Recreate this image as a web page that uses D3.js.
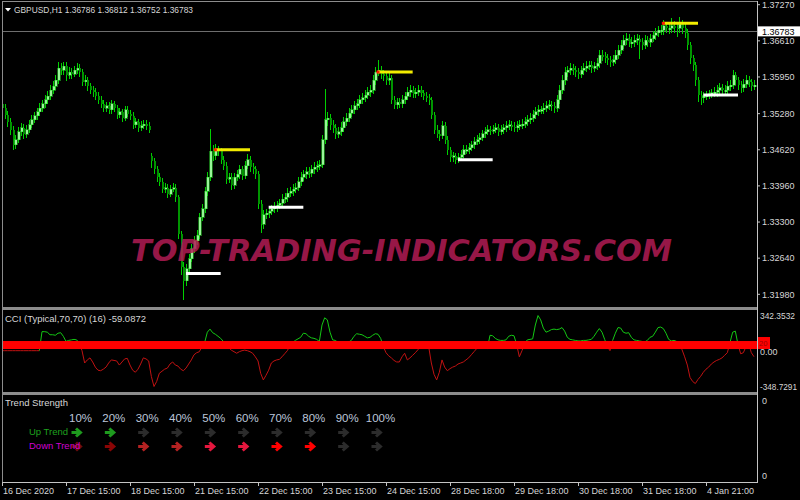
<!DOCTYPE html>
<html>
<head>
<meta charset="utf-8">
<script src="https://cdn.jsdelivr.net/npm/d3@7"></script>
<style>
  body { margin: 0; background: #000; }
  text { font-family: "Liberation Sans", Arial, sans-serif; }
</style>
</head>
<body>
<svg id="chart" width="800" height="500"></svg>
<script>
// GBPUSD H1 bars (16 Dec 2020 -> 4 Jan 2021)
const opens = [
  1.3545,1.3538,1.3526,1.3513,1.3499,1.3471,
  1.3480,1.3495,1.3502,1.3490,1.3499, 1.3508,1.3517,1.3524,1.3531,1.3538,
  1.3546,1.3553,1.3560,1.3571,1.3578, 1.3589,1.3611,1.3607,1.3615,1.3598,
  1.3604,1.3600,1.3607,1.3611,1.3604, 1.3586,1.3589,1.3578,1.3571,1.3567,
  1.3560,1.3553,1.3546,1.3538,1.3542, 1.3535,1.3546,1.3538,1.3526,1.3531,
  1.3520,1.3535,1.3528,1.3524,1.3508, 1.3513,1.3502,1.3506,1.3509,1.3506,
  1.3450,1.3441,1.3426,1.3412,1.3404, 1.3390,1.3393,1.3381,1.3390,1.3393,
  1.3375,1.3308,1.3248,1.3223,1.3245, 1.3263,1.3281,1.3296,1.3306,1.3339,
  1.3354,1.3386,1.3412,1.3459,1.3451, 1.3462,1.3459,1.3444,1.3433,1.3408,
  1.3412,1.3397,1.3412,1.3417,1.3426, 1.3415,1.3433,1.3444,1.3430,1.3426,
  1.3417,1.3363,1.3326,1.3343,1.3346, 1.3350,1.3354,1.3357,1.3361,1.3364,
  1.3372,1.3375,1.3383,1.3386,1.3390, 1.3393,1.3404,1.3412,1.3417,1.3422,
  1.3419,1.3426,1.3430,1.3433,1.3435, 1.3480,1.3517,1.3520,1.3508,1.3502,
  1.3490,1.3495,1.3502,1.3513,1.3520, 1.3529,1.3535,1.3542,1.3546,1.3553,
  1.3557,1.3562,1.3567,1.3571,1.3589, 1.3604,1.3607,1.3600,1.3597,1.3589,
  1.3593,1.3553,1.3544,1.3549,1.3546, 1.3553,1.3560,1.3567,1.3571,1.3564,
  1.3567,1.3571,1.3566,1.3560,1.3557, 1.3553,1.3526,1.3499,1.3491,1.3488,
  1.3506,1.3480,1.3462,1.3448,1.3451, 1.3444,1.3448,1.3453,1.3462,1.3462,
  1.3466,1.3471,1.3477,1.3480,1.3484, 1.3491,1.3495,1.3499,1.3497,1.3499,
  1.3502,1.3495,1.3499,1.3502,1.3506, 1.3508,1.3504,1.3502,1.3506,1.3508,
  1.3509,1.3513,1.3517,1.3520,1.3526, 1.3531,1.3535,1.3535,1.3538,1.3542,
  1.3544,1.3542,1.3538,1.3553,1.3571, 1.3589,1.3604,1.3607,1.3611,1.3607,
  1.3604,1.3600,1.3607,1.3611,1.3615, 1.3616,1.3611,1.3615,1.3620,1.3635,
  1.3633,1.3629,1.3626,1.3622,1.3626, 1.3635,1.3644,1.3653,1.3662,1.3665,
  1.3658,1.3658,1.3662,1.3665,1.3658, 1.3653,1.3662,1.3658,1.3665,1.3671,
  1.3676,1.3680,1.3680,1.3689,1.3684, 1.3684,1.3689,1.3685,1.3684,1.3691,
  1.3684,1.3676,1.3653,1.3629,1.3616, 1.3589,1.3562,1.3557,1.3560,1.3562,
  1.3564,1.3566,1.3567,1.3571,1.3575, 1.3571,1.3571,1.3578,1.3580,1.3598,
  1.3589,1.3580,1.3575,1.3582,1.3589, 1.3586,1.3578
];
const highs = [
  1.3552,1.3544,1.3531,1.3518,1.3503,1.3488,
  1.3501,1.3509,1.3507,1.3505,1.3514, 1.3523,1.3530,1.3537,1.3545,1.3552,
  1.3560,1.3567,1.3578,1.3585,1.3597, 1.3620,1.3618,1.3621,1.3620,1.3611,
  1.3610,1.3613,1.3619,1.3616,1.3608, 1.3596,1.3594,1.3583,1.3576,1.3573,
  1.3565,1.3558,1.3551,1.3548,1.3547, 1.3552,1.3550,1.3542,1.3537,1.3535,
  1.3541,1.3540,1.3533,1.3529,1.3519, 1.3517,1.3512,1.3515,1.3514,1.3511,
  1.3455,1.3445,1.3430,1.3418,1.3408, 1.3399,1.3398,1.3396,1.3400,1.3397,
  1.3378,1.3312,1.3255,1.3252,1.3270, 1.3288,1.3302,1.3313,1.3345,1.3362,
  1.3392,1.3420,1.3499,1.3468,1.3470, 1.3467,1.3464,1.3449,1.3438,1.3418,
  1.3417,1.3418,1.3424,1.3433,1.3431, 1.3440,1.3452,1.3449,1.3436,1.3431,
  1.3421,1.3368,1.3350,1.3352,1.3356, 1.3360,1.3364,1.3367,1.3370,1.3379,
  1.3382,1.3390,1.3393,1.3397,1.3400, 1.3411,1.3419,1.3424,1.3429,1.3428,
  1.3432,1.3437,1.3440,1.3442,1.3488, 1.3571,1.3530,1.3525,1.3515,1.3508,
  1.3502,1.3510,1.3520,1.3527,1.3536, 1.3542,1.3549,1.3553,1.3560,1.3564,
  1.3569,1.3574,1.3578,1.3597,1.3612, 1.3625,1.3614,1.3606,1.3602,1.3600,
  1.3597,1.3558,1.3555,1.3554,1.3560, 1.3566,1.3574,1.3578,1.3576,1.3573,
  1.3578,1.3576,1.3570,1.3565,1.3562, 1.3557,1.3530,1.3505,1.3497,1.3512,
  1.3510,1.3485,1.3466,1.3457,1.3455, 1.3454,1.3459,1.3468,1.3468,1.3472,
  1.3477,1.3483,1.3487,1.3491,1.3497, 1.3502,1.3506,1.3504,1.3505,1.3509,
  1.3507,1.3505,1.3508,1.3512,1.3514, 1.3513,1.3510,1.3512,1.3514,1.3516,
  1.3520,1.3524,1.3527,1.3533,1.3538, 1.3542,1.3541,1.3545,1.3549,1.3551,
  1.3550,1.3548,1.3560,1.3578,1.3597, 1.3612,1.3614,1.3618,1.3617,1.3613,
  1.3610,1.3614,1.3618,1.3622,1.3623, 1.3622,1.3621,1.3627,1.3643,1.3642,
  1.3639,1.3635,1.3631,1.3633,1.3642, 1.3651,1.3661,1.3670,1.3673,1.3671,
  1.3666,1.3669,1.3672,1.3670,1.3664, 1.3669,1.3668,1.3672,1.3678,1.3683,
  1.3687,1.3688,1.3697,1.3694,1.3692, 1.3700,1.3695,1.3693,1.3703,1.3697,
  1.3690,1.3680,1.3657,1.3634,1.3620, 1.3594,1.3568,1.3566,1.3568,1.3570,
  1.3572,1.3574,1.3578,1.3582,1.3580, 1.3578,1.3585,1.3588,1.3606,1.3603,
  1.3594,1.3585,1.3590,1.3596,1.3595, 1.3590,1.3587
];
const lows = [
  1.3532,1.3520,1.3506,1.3490,1.3463,1.3466,
  1.3476,1.3489,1.3484,1.3486,1.3494, 1.3503,1.3512,1.3519,1.3526,1.3533,
  1.3540,1.3548,1.3555,1.3566,1.3573, 1.3584,1.3600,1.3601,1.3590,1.3593,
  1.3594,1.3596,1.3602,1.3597,1.3580, 1.3581,1.3572,1.3566,1.3561,1.3554,
  1.3547,1.3540,1.3532,1.3533,1.3529, 1.3530,1.3533,1.3520,1.3521,1.3514,
  1.3516,1.3523,1.3518,1.3502,1.3503, 1.3497,1.3498,1.3501,1.3500,1.3494,
  1.3430,1.3420,1.3405,1.3398,1.3384, 1.3385,1.3376,1.3377,1.3386,1.3368,
  1.3300,1.3235,1.3190,1.3215,1.3238, 1.3258,1.3275,1.3290,1.3300,1.3333,
  1.3348,1.3380,1.3406,1.3444,1.3446, 1.3452,1.3438,1.3427,1.3402,1.3403,
  1.3390,1.3392,1.3406,1.3411,1.3409, 1.3410,1.3428,1.3424,1.3419,1.3410,
  1.3356,1.3312,1.3320,1.3337,1.3340, 1.3344,1.3349,1.3351,1.3355,1.3359,
  1.3366,1.3369,1.3377,1.3380,1.3384, 1.3388,1.3398,1.3406,1.3411,1.3413,
  1.3414,1.3420,1.3424,1.3427,1.3430, 1.3475,1.3508,1.3500,1.3495,1.3484,
  1.3485,1.3489,1.3497,1.3508,1.3515, 1.3523,1.3530,1.3536,1.3540,1.3547,
  1.3551,1.3556,1.3561,1.3566,1.3583, 1.3598,1.3594,1.3590,1.3583,1.3583,
  1.3547,1.3538,1.3538,1.3540,1.3541, 1.3548,1.3555,1.3561,1.3558,1.3559,
  1.3562,1.3560,1.3554,1.3551,1.3546, 1.3520,1.3492,1.3485,1.3480,1.3484,
  1.3474,1.3455,1.3441,1.3442,1.3437, 1.3439,1.3443,1.3448,1.3456,1.3457,
  1.3461,1.3466,1.3472,1.3475,1.3479, 1.3486,1.3490,1.3491,1.3492,1.3494,
  1.3489,1.3490,1.3493,1.3497,1.3500, 1.3498,1.3496,1.3497,1.3500,1.3502,
  1.3504,1.3508,1.3511,1.3515,1.3520, 1.3525,1.3529,1.3530,1.3533,1.3536,
  1.3535,1.3531,1.3533,1.3548,1.3565, 1.3583,1.3597,1.3600,1.3600,1.3597,
  1.3593,1.3595,1.3601,1.3605,1.3609, 1.3604,1.3605,1.3610,1.3614,1.3626,
  1.3622,1.3619,1.3615,1.3616,1.3620, 1.3629,1.3638,1.3647,1.3656,1.3651,
  1.3650,1.3652,1.3656,1.3630,1.3646, 1.3648,1.3651,1.3652,1.3660,1.3665,
  1.3670,1.3673,1.3674,1.3677,1.3676, 1.3678,1.3678,1.3670,1.3678,1.3676,
  1.3668,1.3646,1.3620,1.3608,1.3580, 1.3552,1.3546,1.3550,1.3554,1.3556,
  1.3558,1.3560,1.3561,1.3565,1.3564, 1.3564,1.3566,1.3572,1.3575,1.3582,
  1.3573,1.3567,1.3569,1.3576,1.3579, 1.3571,1.3573
];
const closes = [
  1.3538,1.3526,1.3513,1.3499,1.3471,1.3480,
  1.3495,1.3502,1.3490,1.3499,1.3508, 1.3517,1.3524,1.3531,1.3538,1.3546,
  1.3553,1.3560,1.3571,1.3578,1.3589, 1.3611,1.3607,1.3615,1.3598,1.3604,
  1.3600,1.3607,1.3611,1.3604,1.3586, 1.3589,1.3578,1.3571,1.3567,1.3560,
  1.3553,1.3546,1.3538,1.3542,1.3535, 1.3546,1.3538,1.3526,1.3531,1.3520,
  1.3535,1.3528,1.3524,1.3508,1.3513, 1.3502,1.3506,1.3509,1.3506,1.3499,
  1.3441,1.3426,1.3412,1.3404,1.3390, 1.3393,1.3381,1.3390,1.3393,1.3375,
  1.3308,1.3248,1.3223,1.3245,1.3263, 1.3281,1.3296,1.3306,1.3339,1.3354,
  1.3386,1.3412,1.3459,1.3451,1.3462, 1.3459,1.3444,1.3433,1.3408,1.3412,
  1.3397,1.3412,1.3417,1.3426,1.3415, 1.3433,1.3444,1.3430,1.3426,1.3417,
  1.3363,1.3326,1.3343,1.3346,1.3350, 1.3354,1.3357,1.3361,1.3364,1.3372,
  1.3375,1.3383,1.3386,1.3390,1.3393, 1.3404,1.3412,1.3417,1.3422,1.3419,
  1.3426,1.3430,1.3433,1.3435,1.3480, 1.3517,1.3520,1.3508,1.3502,1.3490,
  1.3495,1.3502,1.3513,1.3520,1.3529, 1.3535,1.3542,1.3546,1.3553,1.3557,
  1.3562,1.3567,1.3571,1.3589,1.3604, 1.3607,1.3600,1.3597,1.3589,1.3593,
  1.3553,1.3544,1.3549,1.3546,1.3553, 1.3560,1.3567,1.3571,1.3564,1.3567,
  1.3571,1.3566,1.3560,1.3557,1.3553, 1.3526,1.3499,1.3491,1.3488,1.3506,
  1.3480,1.3462,1.3448,1.3451,1.3444, 1.3448,1.3453,1.3462,1.3462,1.3466,
  1.3471,1.3477,1.3480,1.3484,1.3491, 1.3495,1.3499,1.3497,1.3499,1.3502,
  1.3495,1.3499,1.3502,1.3506,1.3508, 1.3504,1.3502,1.3506,1.3508,1.3509,
  1.3513,1.3517,1.3520,1.3526,1.3531, 1.3535,1.3535,1.3538,1.3542,1.3544,
  1.3542,1.3538,1.3553,1.3571,1.3589, 1.3604,1.3607,1.3611,1.3607,1.3604,
  1.3600,1.3607,1.3611,1.3615,1.3616, 1.3611,1.3615,1.3620,1.3635,1.3633,
  1.3629,1.3626,1.3622,1.3626,1.3635, 1.3644,1.3653,1.3662,1.3665,1.3658,
  1.3658,1.3662,1.3665,1.3658,1.3653, 1.3662,1.3658,1.3665,1.3671,1.3676,
  1.3680,1.3680,1.3689,1.3684,1.3684, 1.3689,1.3685,1.3684,1.3691,1.3684,
  1.3676,1.3653,1.3629,1.3616,1.3589, 1.3562,1.3557,1.3560,1.3562,1.3564,
  1.3566,1.3567,1.3571,1.3575,1.3571, 1.3571,1.3578,1.3580,1.3598,1.3589,
  1.3580,1.3575,1.3582,1.3589,1.3586, 1.3578,1.3580
];

// CCI (Typical, 70, 70) per bar, first bars have no value yet
const cci = [
  0,0,0,0,0,0,0,0,0,0,0,0,0,0,0,
  185,185,180,155,155,150, 170,175,140,90,100, 105,110,105,70,0,
  -120,-90,-70,-110,-160, -190,-195,-180,-160,-120, -90,-95,-100,-140,-110,
  -80,-75,-140,-190,-210, -180,-130,-70,-80,-100, -250,-349,-300,-220,-200,
  -180,-170,-130,-110,-140, -150,-180,-195,-170,-130, -90,-40,-20,-10,40,
  80,180,210,175,160, 140,120,90,60,30, 5,-10,-25,-10,0,
  5,0,-10,-25,-60, -100,-220,-285,-240,-190, -120,-100,-90,-85,-60,
  -30,0,50,80,100, 115,130,170,165,140, 125,120,110,90,250,
  320,300,180,105,100, 80,75,78,80,85, 100,140,165,160,155,
  140,125,130,150,165, 160,120,40,-20,-50, -70,-95,-110,-110,-60,
  -25,-90,-70,-45,-20, 10,40,55,65,40, -120,-230,-285,-210,-90,
  -160,-195,-175,-160,-150, -130,-120,-110,-90,-70, -40,-10,20,60,50,
  30,20,150,145,120, 105,100,100,105,140, 150,145,60,-60,0,
  70,105,110,115,250, 342,300,220,180,190, 205,210,205,210,225,
  190,130,110,105,100, 95,95,100,100,105, 110,140,180,215,180,
  110,40,0,100,170, 225,220,180,170,175, 130,105,100,95,90,
  85,100,130,140,180, 225,230,215,170,110, 95,100,90,50,10,
  -60,-140,-260,-300,-320, -280,-250,-210,-180,-160, -130,-110,-95,-85,-70,
  -45,-20,80,180,190, 60,-30,-20,40,70, -20,-59
];
const cciLevel = 55;

// support / resistance segments: price and first bar
const resistancePrices = [1.3462, 1.3604, 1.3693];
const resistanceBars = [80, 141, 248];
const supportPrices = [1.3236, 1.3357, 1.3444, 1.3562];
const supportBars = [69, 100, 171, 263];
const segmentBars = 13;

const priceTicks = [1.3727, 1.3661, 1.3595, 1.3528, 1.3462, 1.3396, 1.3330, 1.3264, 1.3198];
const lastPrice = 1.36783;
const cciTicks = [342.3532, 0, -348.7291];

const timeTickBars = [0, 24, 48, 72, 96, 120, 144, 168, 192, 216, 240, 264];
const timeLabels = ["16 Dec 2020", "17 Dec 15:00", "18 Dec 15:00", "21 Dec 15:00",
  "22 Dec 15:00", "23 Dec 15:00", "24 Dec 15:00", "28 Dec 18:00", "29 Dec 18:00",
  "30 Dec 18:00", "31 Dec 18:00", "4 Jan 21:00"];

const strengthSteps = [10, 20, 30, 40, 50, 60, 70, 80, 90, 100];
const upTrendStrength = 20;
const downTrendStrength = 80;

// ---- drawing ----
const svg = d3.select("#chart");
svg.append("rect").attr("width", 800).attr("height", 500).attr("fill", "#000");

const x = d3.scaleLinear().domain([0, 24]).range([2, 66]);
const y = d3.scaleLinear().domain([1.3198, 1.3727]).range([294.3, 4.7]);
const yc = d3.scaleLinear().domain([-348.7291, 342.3532]).range([386.5, 315.5]);

const bars = d3.range(closes.length);
const frame = "#8c8c8c";
const axisCol = "#c4c4c4";
const textCol = "#d6d6d6";

// current price line (behind candles)
svg.append("line")
  .attr("x1", 2).attr("x2", 757).attr("y1", Math.round(y(lastPrice)) + 0.5).attr("y2", Math.round(y(lastPrice)) + 0.5)
  .attr("stroke", "#6e6e6e");

// candles
const cg = svg.append("g").attr("shape-rendering", "crispEdges");
cg.selectAll("line").data(bars).join("line")
  .attr("x1", i => Math.round(x(i)) + 0.5)
  .attr("x2", i => Math.round(x(i)) + 0.5)
  .attr("y1", i => y(Math.max(highs[i], opens[i], closes[i])) - 1)
  .attr("y2", i => y(Math.min(lows[i], opens[i], closes[i])) + 1)
  .attr("stroke", "#00d000");
cg.selectAll("rect").data(bars).join("rect")
  .attr("x", i => Math.round(x(i)) - 0.5)
  .attr("width", 2.5)
  .attr("y", i => y(Math.max(opens[i], closes[i])))
  .attr("height", i => Math.max(1.5, Math.abs(y(opens[i]) - y(closes[i]))))
  .attr("fill", i => closes[i] >= opens[i] ? "#98f598" : "#009400")
  .attr("stroke", i => closes[i] >= opens[i] ? "#2ee02e" : "none")
  .attr("stroke-width", 0.5);

// support / resistance segments
const lv = svg.append("g");
lv.selectAll("line.sup").data(supportPrices).join("line").attr("class", "sup")
  .attr("x1", (d, k) => x(supportBars[k])).attr("x2", (d, k) => x(supportBars[k] + segmentBars))
  .attr("y1", d => y(d)).attr("y2", d => y(d))
  .attr("stroke", "#ffffff").attr("stroke-width", 3);
lv.selectAll("line.res").data(resistancePrices).join("line").attr("class", "res")
  .attr("x1", (d, k) => x(resistanceBars[k])).attr("x2", (d, k) => x(resistanceBars[k] + segmentBars))
  .attr("y1", d => y(d)).attr("y2", d => y(d))
  .attr("stroke", "#f2ec00").attr("stroke-width", 3);
lv.selectAll("rect.dot").data(resistancePrices).join("rect").attr("class", "dot")
  .attr("x", (d, k) => x(resistanceBars[k]) - 1.5).attr("y", d => y(d) - 1.5)
  .attr("width", 3).attr("height", 3).attr("fill", "#ff1a00");

// watermark
svg.append("text")
  .attr("x", 131).attr("y", 261)
  .attr("textLength", 541).attr("lengthAdjust", "spacingAndGlyphs")
  .style("font-family", "'DejaVu Sans', sans-serif")
  .style("font-size", "31px").style("font-weight", "bold").style("font-style", "italic")
  .attr("fill", "#b41c55").attr("fill-opacity", 0.85)
  .text("TOP-TRADING-INDICATORS.COM");

// header
svg.append("path").attr("d", "M5,8 L11,8 L8,11.5 Z").attr("fill", "#fff");
svg.append("text").attr("x", 14).attr("y", 13)
  .attr("textLength", 179).attr("lengthAdjust", "spacingAndGlyphs")
  .style("font-size", "9.5px").attr("fill", textCol)
  .text("GBPUSD,H1  1.36786 1.36812 1.36752 1.36783");

// ---- CCI window ----
const cciSeg = svg.append("g");
cciSeg.selectAll("line").data(bars.slice(0, -1)).join("line")
  .attr("x1", i => x(i)).attr("x2", i => x(i + 1))
  .attr("y1", i => yc(cci[i])).attr("y2", i => yc(cci[i + 1]))
  .attr("stroke", i => (cci[i] + cci[i + 1]) / 2 >= 57 ? "#14c814" : "#c01212")
  .attr("stroke-width", 1);
svg.append("rect").attr("x", 2).attr("width", 755)
  .attr("y", yc(cciLevel) - 4).attr("height", 8).attr("fill", "#ff0000");
svg.append("rect").attr("x", 758).attr("width", 12)
  .attr("y", yc(cciLevel) - 8).attr("height", 12).attr("fill", "#ff0000");
svg.append("text").attr("x", 759).attr("y", yc(cciLevel) + 1)
  .style("font-size", "7.5px").attr("fill", "#9a0000").text("20");
svg.append("text").attr("x", 5).attr("y", 321.5)
  .style("font-size", "9.5px").attr("fill", textCol)
  .text("CCI (Typical,70,70) (16) -59.0872");

// ---- Trend Strength window ----
svg.append("text").attr("x", 5).attr("y", 406)
  .style("font-size", "9.5px").attr("fill", textCol).text("Trend Strength");
const colX = d3.scaleLinear().domain([10, 100]).range([76.5, 376.5]);
svg.selectAll("text.pct").data(strengthSteps).join("text").attr("class", "pct")
  .attr("x", d => colX(d) + 4).attr("y", 421.5).attr("text-anchor", "middle")
  .style("font-size", "11.5px").attr("fill", "#bcc6d9")
  .text(d => d + "%");

const offCol = "#2c2c2c";
const downShades = ["#6a0c0c", "#8a0505", "#b52222", "#b52222", "#e5173e", "#e5173e", "#ff0000", "#ff0000"];
const arrow = "M-5,0 H3.5 M-0.5,-4 L4,0 L-0.5,4";
svg.selectAll("path.up").data(strengthSteps).join("path").attr("class", "up")
  .attr("d", arrow).attr("transform", d => `translate(${colX(d)},432.5)`)
  .attr("fill", "none").attr("stroke-width", 3)
  .attr("stroke", d => d <= upTrendStrength ? "#1e9a1e" : offCol);
svg.selectAll("path.down").data(strengthSteps).join("path").attr("class", "down")
  .attr("d", arrow).attr("transform", d => `translate(${colX(d)},446.5)`)
  .attr("fill", "none").attr("stroke-width", 3)
  .attr("stroke", (d, k) => d <= downTrendStrength ? downShades[k] : offCol);
svg.append("text").attr("x", 29).attr("y", 434.5)
  .style("font-size", "9.5px").attr("fill", "#1ea01e").text("Up Trend");
svg.append("text").attr("x", 29).attr("y", 449)
  .style("font-size", "9.5px").attr("fill", "#d000d0").text("Down Trend");

// ---- frames and axes ----
const fr = svg.append("g").attr("shape-rendering", "crispEdges");
fr.append("line").attr("x1", 2).attr("x2", 757).attr("y1", 1.5).attr("y2", 1.5).attr("stroke", frame);
fr.append("line").attr("x1", 2.5).attr("x2", 2.5).attr("y1", 1).attr("y2", 482).attr("stroke", frame);
fr.append("rect").attr("x", 2).attr("width", 756).attr("y", 307).attr("height", 3).attr("fill", frame);
fr.append("rect").attr("x", 2).attr("width", 756).attr("y", 391.5).attr("height", 3).attr("fill", frame);
fr.append("line").attr("x1", 757.5).attr("x2", 757.5).attr("y1", 1).attr("y2", 482).attr("stroke", axisCol);
fr.append("line").attr("x1", 2).attr("x2", 758).attr("y1", 482.5).attr("y2", 482.5).attr("stroke", axisCol);

// price axis
const pa = svg.append("g");
pa.selectAll("line").data(priceTicks).join("line")
  .attr("x1", 757).attr("x2", 760).attr("y1", d => y(d)).attr("y2", d => y(d)).attr("stroke", axisCol);
pa.selectAll("text").data(priceTicks).join("text")
  .attr("x", 762).attr("y", d => y(d) + 3.3)
  .style("font-size", "9px").attr("fill", textCol)
  .text(d => d.toFixed(5));
svg.append("rect").attr("x", 758).attr("y", y(lastPrice) - 5).attr("width", 42).attr("height", 10).attr("fill", "#fff");
svg.append("text").attr("x", 762).attr("y", y(lastPrice) + 3.3)
  .style("font-size", "9px").attr("fill", "#000").text(lastPrice.toFixed(5));

// CCI axis labels
svg.selectAll("text.cci").data(cciTicks).join("text").attr("class", "cci")
  .attr("x", 760).attr("y", d => yc(d) + (d === 0 ? 4 : 3.3))
  .attr("textLength", d => d === 0 ? null : (d < 0 ? 37 : 35))
  .attr("lengthAdjust", "spacingAndGlyphs")
  .style("font-size", "9px").attr("fill", textCol)
  .text(d => d === 0 ? "0.00" : d.toFixed(4));

// trend window axis labels
svg.selectAll("text.tz").data([400.5, 476]).join("text").attr("class", "tz")
  .attr("x", 762).attr("y", d => d + 3.3)
  .style("font-size", "9px").attr("fill", textCol).text("0");

// time axis
const ta = svg.append("g");
ta.selectAll("line").data(timeTickBars).join("line")
  .attr("x1", d => Math.round(x(d)) + 0.5).attr("x2", d => Math.round(x(d)) + 0.5)
  .attr("y1", 482).attr("y2", 486).attr("stroke", axisCol);
ta.selectAll("text").data(timeTickBars).join("text")
  .attr("x", d => x(d) + 1).attr("y", 494)
  .style("font-size", "9px").attr("fill", textCol)
  .text((d, k) => timeLabels[k]);
</script>
</body>
</html>
